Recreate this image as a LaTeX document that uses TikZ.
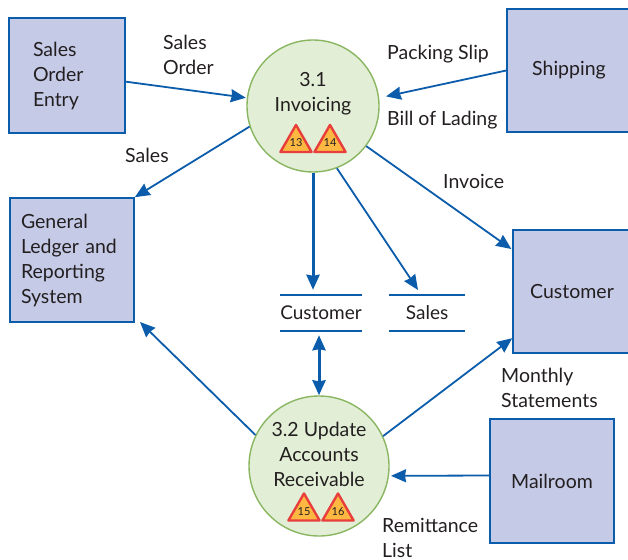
\documentclass[tikz,border=0pt]{standalone}
\usepackage{fontspec}
\setmainfont{Lato}
\usetikzlibrary{arrows.meta,positioning,shapes.geometric}
\definecolor{flowblue}{RGB}{11,92,171}
\definecolor{boxfill}{RGB}{197,202,231}
\definecolor{procfill}{RGB}{226,239,214}
\definecolor{procline}{RGB}{138,182,97}
\definecolor{warnfill}{RGB}{253,184,66}
\definecolor{warnline}{RGB}{232,62,60}
\definecolor{inktext}{RGB}{35,31,32}
\tikzset{
    %Define standard arrow tip
    >={Stealth[length=15pt,width=13pt,inset=1pt]},
    %Define style for boxes
    entity/.style={
           rectangle,
           draw=flowblue, line width=1.6pt,
           fill=boxfill,
           inner sep=0pt,
           align=left,
           text=inktext,
           font=\fontsize{19.5}{25}\selectfont,
           },
    process/.style={
           circle,
           draw=procline, line width=1.4pt,
           fill=procfill,
           inner sep=0pt,
           },
    store/.style={
           rectangle,
           minimum width=76pt,
           minimum height=36pt,
           inner sep=0pt,
           text=inktext,
           font=\fontsize{19}{25}\selectfont,
           },
    storeline/.style={
           draw=flowblue, line width=1.5pt,
           },
    label/.style={
           align=left,
           inner sep=0pt,
           text=inktext,
           font=\fontsize{19.5}{25}\selectfont,
           },
    warn/.style={
           regular polygon, regular polygon sides=3,
           draw=warnline, line width=2.4pt, line join=round,
           fill=warnfill,
           minimum size=25pt,
           inner sep=0pt,
           text=inktext,
           font=\fontsize{11}{11}\selectfont,
           },
    % Define arrow style
    flow/.style={
           color=flowblue,
           line width=1.8pt,
           every edge/.append style={->},
           },
    bigflow/.style={
           flow,
           line width=3pt,
           },
}
\begin{document}
\begin{tikzpicture}[x=1pt,y=-1pt]
\useasboundingbox (0,0) rectangle (628,559);
% external entities
\node[entity, minimum width=116pt, minimum height=115pt, text width=68pt] (entry) at (67,75.5) {Sales\\Order\\Entry};
\node[entity, minimum width=124pt, minimum height=123pt] (shipping) at (569,70.5) {Shipping};
\node[entity, minimum width=124pt, minimum height=124pt, text width=102pt] (ledger) at (72,260) {General\\Ledger and\\Reporting\\System};
\node[entity, minimum width=118pt, minimum height=123pt] (customer) at (572,291.5) {Customer};
\node[entity, minimum width=124pt, minimum height=124pt] (mailroom) at (552,481) {Mailroom};
% processes
\node[process, minimum size=132pt] (invoicing) at (313,106) {};
\node[process, minimum size=140pt] (update) at (319,466) {};
\node[label, align=center] (invoicingtext) at (313,94) {3.1\\Invoicing};
\node[label, align=center] (updatetext) at (319,454) {3.2 Update\\Accounts\\Receivable};
\node[warn] (w13) at (296,143) {13};
\node[warn] (w14) at (330,143) {14};
\node[warn] (w15) at (304,511.5) {15};
\node[warn] (w16) at (338,511.5) {16};
% data stores
\node[store] (custstore) at (321,313) {Customer};
\node[store, right=27pt of custstore] (salesstore) {Sales};
\draw[storeline] (custstore.north west) -- (custstore.north east);
\draw[storeline] (custstore.south west) -- (custstore.south east);
\draw[storeline] (salesstore.north west) -- (salesstore.north east);
\draw[storeline] (salesstore.south west) -- (salesstore.south east);
% flow labels
\node[label, anchor=north west] (lsalesorder) at (163,35) {Sales\\Order};
\node[label, anchor=west] (lpacking) at (387,54) {Packing Slip};
\node[label, anchor=west] (lbill) at (387,120) {Bill of Lading};
\node[label, anchor=west] (lsales) at (125,155) {Sales};
\node[label, anchor=west] (linvoice) at (443,181) {Invoice};
\node[label, anchor=north west] (lmonthly) at (501,368) {Monthly\\Statements};
\node[label, anchor=north west] (lremit) at (382,518) {Remittance\\List};
% flows
\coordinate (salestip) at (418,290);
\coordinate (ledgertip) at (140,322);
\coordinate (linktop) at (update.north |- custstore.south);
\path[flow]
	(entry.-6) edge[shorten >=1pt] (invoicing.173)
	(shipping.west) edge[shorten >=7pt] (invoicing.7)
	(invoicing.198) edge (ledger.north east)
	(invoicing.-37) edge[shorten >=1pt] (customer.145)
	(invoicing.-69) edge (salestip)
	(update.154) edge (ledgertip)
	(update.25) edge (customer.218)
	(mailroom.175) edge[shorten >=2pt] (update.-8);
\path[bigflow]
	(invoicing.south) edge[shorten >=5pt] (invoicing.south |- custstore.north);
\path[bigflow]
	(linktop) edge[<->, shorten <=4pt] (update.north);
\end{tikzpicture}
\end{document}
